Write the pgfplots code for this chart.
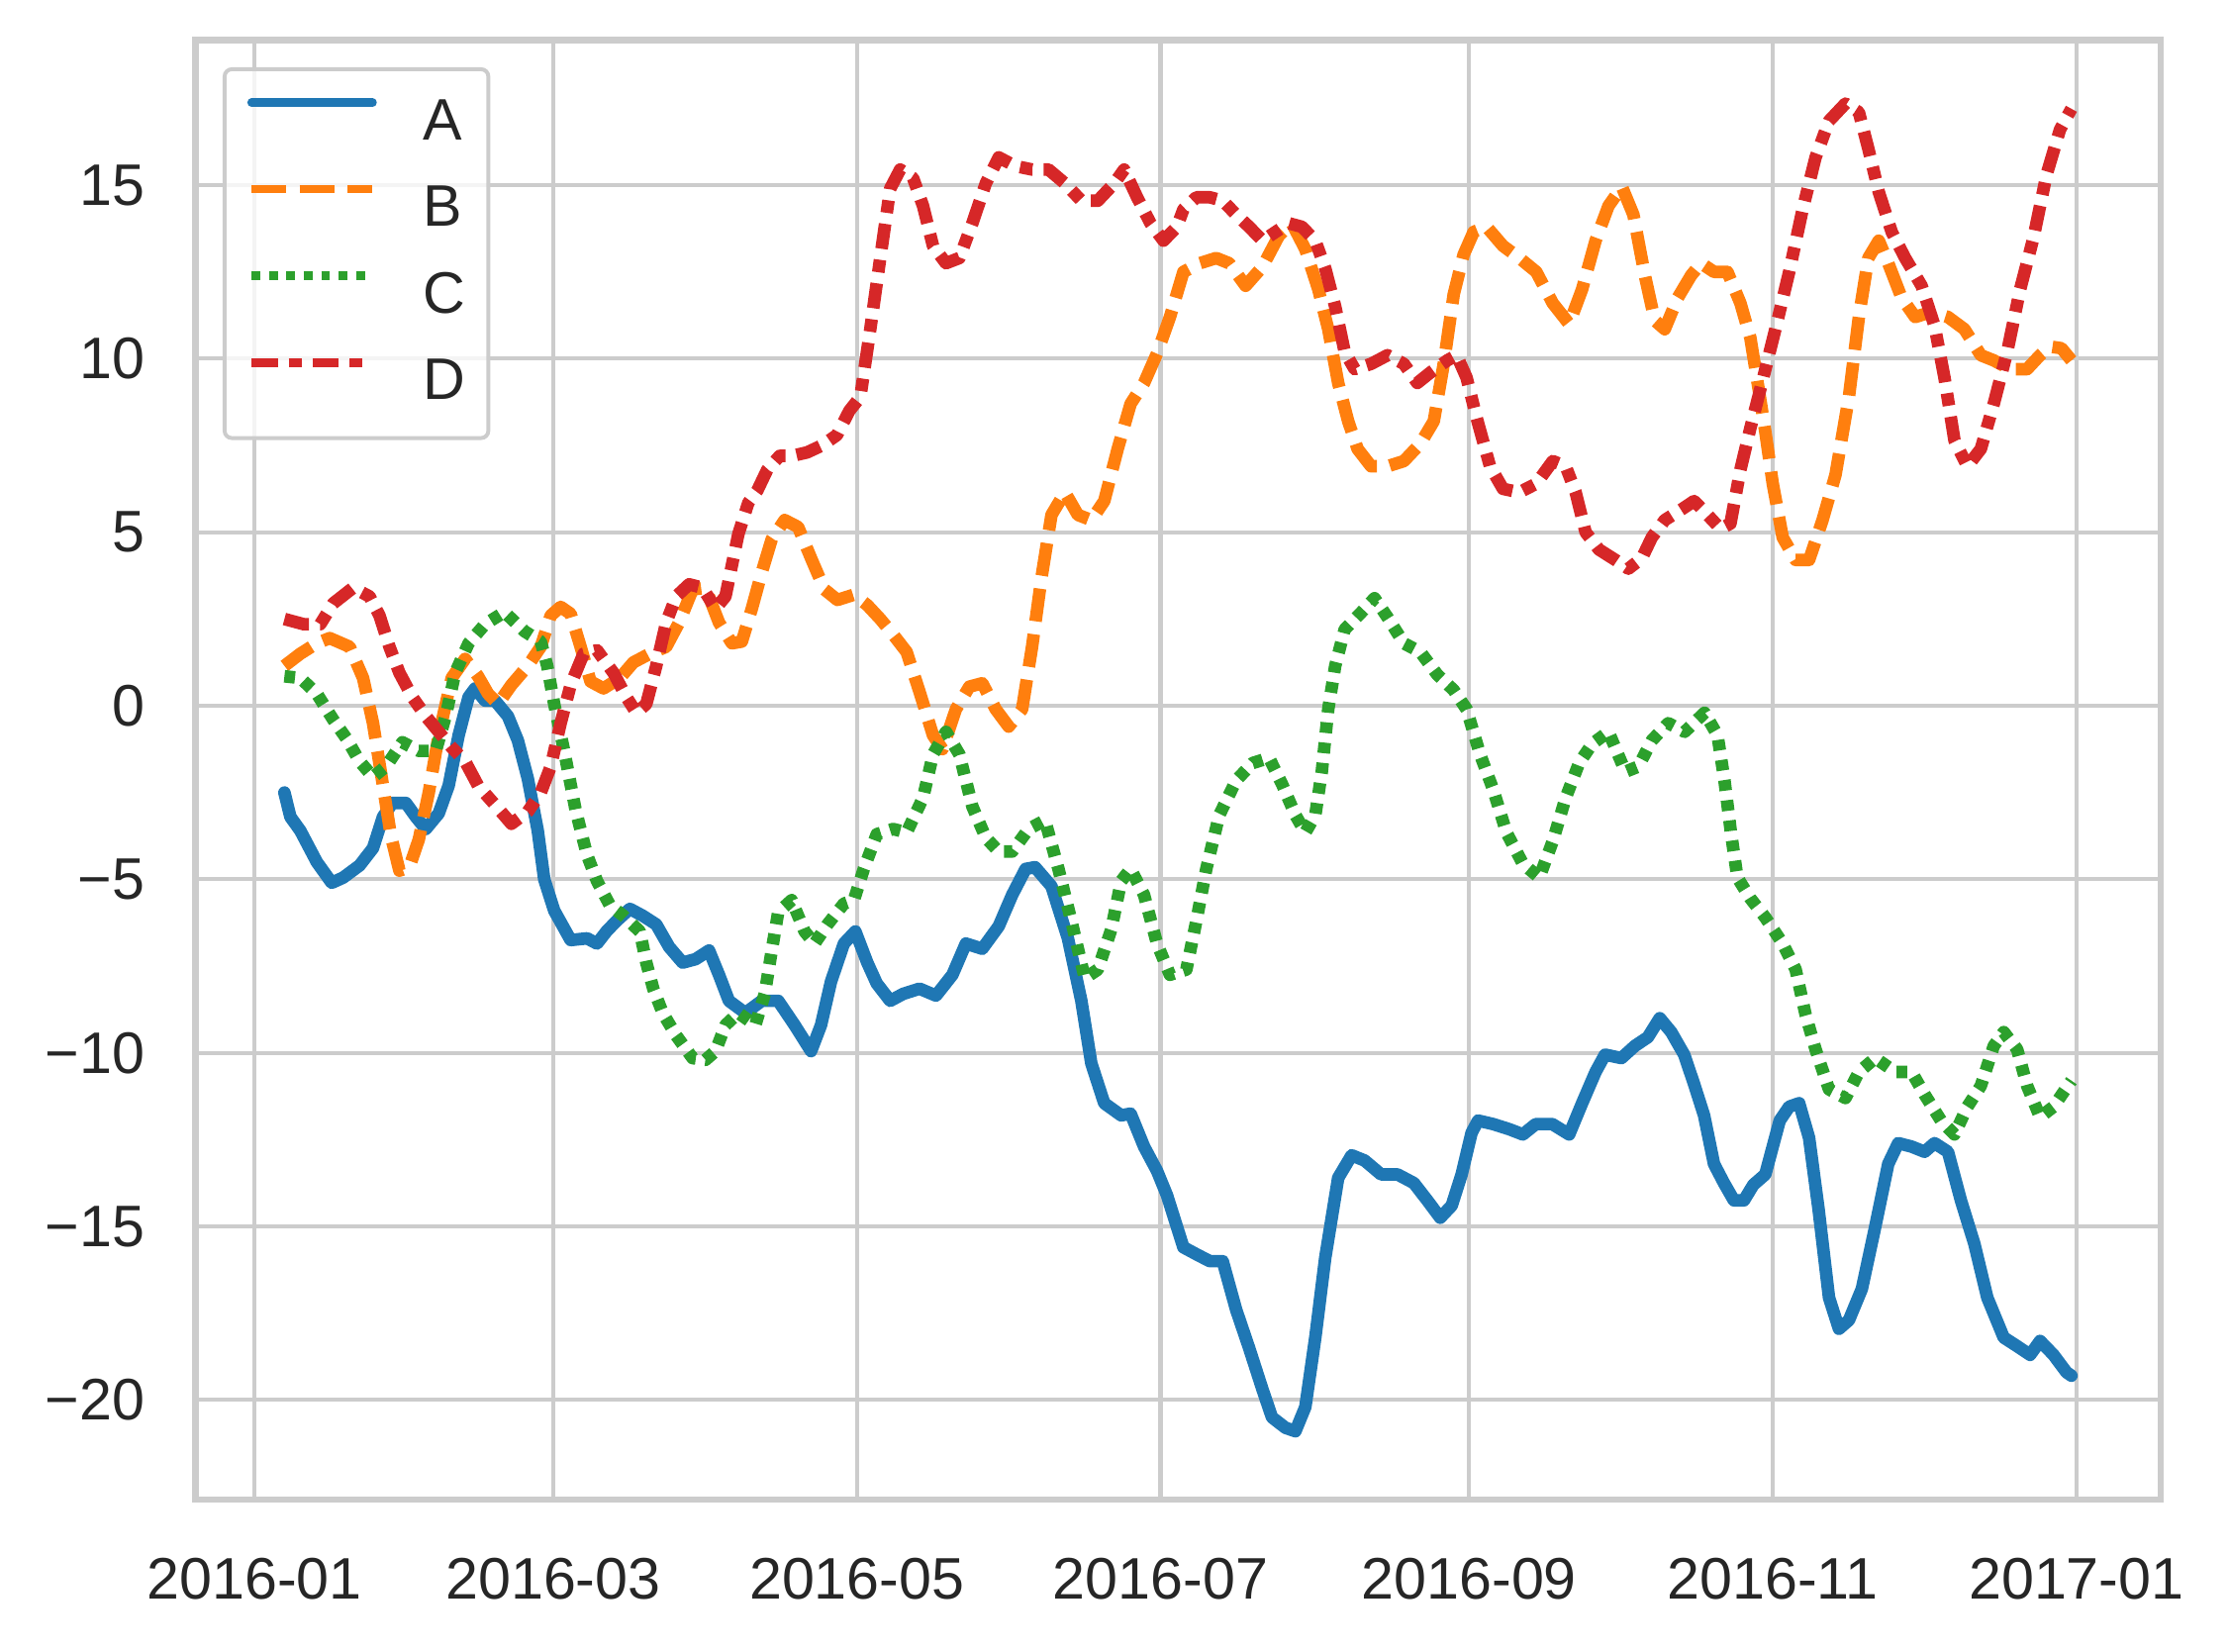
\documentclass[border=0pt]{standalone}
\usepackage{fontspec}
\setmainfont{Liberation Sans}
\usepackage{pgfplots}
\pgfplotsset{compat=1.18}
\definecolor{cA}{HTML}{1F77B4}
\definecolor{cB}{HTML}{FF7F0E}
\definecolor{cC}{HTML}{2CA02C}
\definecolor{cD}{HTML}{D62728}
\definecolor{gridc}{HTML}{CCCCCC}
\definecolor{txt}{HTML}{262626}
\begin{document}
\begin{tikzpicture}
\begin{axis}[
  scale only axis, width=406.1pt, height=301.6pt,
  xmin=-11.95, xmax=382.95, ymin=-22.87, ymax=19.19,
  xtick={0,60,121,182,244,305,366},
  xticklabels={2016-01,2016-03,2016-05,2016-07,2016-09,2016-11,2017-01},
  ytick={-20,-15,-10,-5,0,5,10,15},
  yticklabels={−20,−15,−10,−5,0,5,10,15},
  major tick length=0pt,
  grid=major,
  major grid style={gridc, line width=0.85pt},
  axis line style={gridc, line width=1.4pt},
  tick label style={font=\fontsize{12.1}{14}\selectfont, text=txt},
  yticklabel style={xshift=-6.9pt},
  xticklabel style={yshift=-8.5pt},
  legend cell align=left,
  legend style={at={(0,1)}, anchor=north west, xshift=5.7pt, yshift=-5.7pt,
    draw=gridc, line width=0.8pt, rounded corners=1.5pt, fill=white, fill opacity=0.8,
    draw opacity=1, text opacity=1, inner xsep=4.7pt, inner ysep=5.9pt,
    row sep=7.2pt, column sep=9.6pt,
    nodes={inner sep=0pt, text height=8.7pt, text depth=2pt, font=\fontsize{12.1}{14}\selectfont, text=txt}},
  legend image code/.code={\draw[#1] (0pt,4.35pt) -- (25pt,4.35pt);},
]
\addlegendimage{cA, line width=1.75pt, line cap=round}
\addlegendentry{A}
\addlegendimage{cB, line width=1.75pt, dash pattern=on 7.2pt off 2.7pt}
\addlegendentry{B}
\addlegendimage{cC, line width=1.75pt, dash pattern=on 1.8pt off 1.8pt}
\addlegendentry{C}
\addlegendimage{cD, line width=1.75pt, dash pattern=on 5.4pt off 2.25pt on 2.7pt off 2.25pt}
\addlegendentry{D}
\addplot[forget plot, cA, line width=2.6pt, line cap=round, line join=round] coordinates {
(6,-2.5) (7.2,-3.2) (9.2,-3.6) (12.5,-4.5) (15.5,-5.1) (17.8,-4.95) (21.1,-4.6) (23.8,-4.1) (25.8,-3.2) (27.7,-2.8) (30.4,-2.8) (32.4,-3.2) (34.4,-3.55) (37,-3.1) (39,-2.3) (41,-0.85) (43,0.25) (44.3,0.5) (46.3,0.15) (48.3,0.15) (50.9,-0.3) (52.9,-1.0) (54.9,-2.1) (56.9,-3.6) (58.2,-5.0) (60.2,-5.9) (63.5,-6.75) (66.8,-6.7) (68.8,-6.85) (70.7,-6.5) (72.7,-6.2) (75.4,-5.85) (78,-6.05) (80.7,-6.3) (83.3,-6.95) (86,-7.4) (88.6,-7.3) (91.3,-7.05) (93.3,-7.75) (95.3,-8.5) (98.6,-8.85) (101.9,-8.5) (105.2,-8.5) (108.5,-9.2) (111.8,-9.95) (113.8,-9.2) (115.8,-7.95) (118.4,-6.85) (120.7,-6.5) (123.1,-7.4) (125,-8.0) (127.7,-8.5) (130.3,-8.3) (133.6,-8.15) (136.9,-8.35) (140.2,-7.75) (142.9,-6.85) (146.2,-7.0) (149.5,-6.35) (152.2,-5.45) (154.9,-4.7) (156.8,-4.65) (160.1,-5.2) (163.4,-6.7) (166.1,-8.5) (168.1,-10.3) (170.7,-11.45) (174.1,-11.8) (176,-11.75) (178.7,-12.7) (181.3,-13.4) (183.3,-14.1) (186.6,-15.6) (189.2,-15.8) (191.9,-16.0) (194.5,-16.0) (197.2,-17.4) (199.8,-18.5) (202.5,-19.7) (204.4,-20.5) (207.1,-20.8) (209.1,-20.9) (211.1,-20.2) (213.1,-18.2) (215.1,-15.9) (217.7,-13.6) (220.4,-12.95) (223,-13.1) (226.3,-13.5) (229.6,-13.5) (232.9,-13.75) (235.6,-14.25) (238.2,-14.75) (240.5,-14.4) (242.5,-13.5) (244.5,-12.3) (245.8,-11.95) (248.8,-12.05) (252.1,-12.2) (254.8,-12.35) (257.4,-12.05) (260.7,-12.05) (264.1,-12.35) (266.7,-11.45) (269.4,-10.55) (271.3,-10.05) (274.6,-10.15) (277.3,-9.8) (279.9,-9.55) (282.3,-9.0) (284.6,-9.4) (287.2,-10.05) (289.2,-10.9) (291.2,-11.8) (293.2,-13.2) (295.2,-13.75) (297.2,-14.25) (299.2,-14.25) (301.1,-13.8) (303.5,-13.5) (306.4,-11.95) (308.3,-11.55) (310.3,-11.45) (312.3,-12.45) (314.2,-14.5) (316.3,-17.05) (318.3,-17.95) (320.3,-17.7) (322.9,-16.8) (325.6,-15.0) (328.2,-13.2) (330.2,-12.6) (332.9,-12.7) (335.5,-12.85) (337.5,-12.6) (340.2,-12.85) (342.8,-14.25) (345.5,-15.5) (348.1,-17.05) (351.4,-18.2) (354.1,-18.45) (356.7,-18.7) (358.7,-18.3) (361.4,-18.7) (364,-19.2) (365,-19.3)
};
\addplot[forget plot, cB, line width=2.6pt, dash pattern=on 6.8pt off 2.7pt, line join=round] coordinates {
(6,1.15) (9.2,1.5) (12.5,1.8) (15.1,1.95) (19.1,1.7) (21.8,0.8) (23.8,-0.5) (25.8,-2.3) (27.4,-3.75) (29.1,-4.75) (31.1,-4.65) (33,-3.85) (35,-2.5) (37,-0.85) (39.6,0.8) (42.3,1.35) (44.9,0.85) (46.9,0.35) (48.9,0.05) (51.6,0.6) (54.9,1.15) (57.5,1.7) (59.5,2.6) (61.5,2.85) (63.5,2.65) (65.5,1.7) (67.5,0.7) (70.1,0.5) (73.4,0.8) (76.1,1.25) (79.4,1.5) (82.7,1.7) (85.3,2.4) (88,3.35) (90.6,3.4) (93.3,2.4) (95.9,1.8) (97.9,1.85) (99.9,2.8) (101.9,3.85) (103.9,4.8) (106.5,5.35) (109.2,5.15) (111.8,4.25) (114.5,3.35) (117.1,3.05) (120.4,3.2) (123.1,2.9) (125.7,2.5) (128.3,2.05) (131,1.55) (133.6,0.4) (136.3,-0.85) (138.2,-1.25) (140.9,-0.1) (143.6,0.55) (146.2,0.65) (148.9,-0.1) (151.5,-0.6) (154.2,-0.1) (156.2,1.7) (158.1,3.7) (160.1,5.5) (162.8,6.15) (165.4,5.5) (168.1,5.35) (170.7,5.9) (173.4,7.4) (176,8.7) (178.7,9.3) (181.3,10.15) (183.9,11.2) (186.6,12.5) (189.9,12.75) (193.2,12.9) (195.8,12.75) (199.1,12.1) (202.5,12.65) (205.8,13.55) (208.4,13.9) (211.1,13.15) (213.7,12.0) (215.7,10.85) (217.7,9.3) (219.7,8.2) (221.6,7.4) (224.3,6.9) (227.6,6.9) (230.9,7.05) (234.2,7.55) (236.9,8.2) (238.9,9.85) (240.9,11.85) (242.9,13.0) (244.9,13.65) (247.5,13.8) (250.8,13.25) (254.1,12.9) (257.5,12.5) (260.8,11.6) (264.1,11.0) (266.7,12.0) (269.4,13.4) (272,14.4) (274.7,14.95) (277,14.15) (279.3,12.4) (281.3,11.1) (283.3,10.85) (285.9,11.75) (288.6,12.4) (290.6,12.75) (293.2,12.5) (295.9,12.5) (298.5,11.6) (300.5,10.6) (302.3,9.0) (303.5,7.9) (305,6.4) (307,4.85) (309.6,4.2) (312.3,4.2) (315,5.35) (317.6,6.65) (320.3,8.9) (322.3,11.2) (324.2,12.9) (326.3,13.4) (328.2,12.75) (330.9,11.75) (333.6,11.2) (336.9,11.35) (340.2,11.2) (343.5,10.85) (346.8,10.1) (349.4,9.95) (352.7,9.7) (356.1,9.7) (358.7,10.1) (360.7,10.35) (363,10.3) (365,9.95)
};
\addplot[forget plot, cC, line width=2.6pt, dash pattern=on 2.2pt off 2.0pt, line join=round] coordinates {
(6,0.85) (9.2,0.8) (12.5,0.35) (15.8,-0.4) (18.5,-0.95) (21.1,-1.6) (23.8,-2.05) (26.4,-1.75) (29.7,-1.05) (33,-1.3) (36.4,-1.3) (38.4,-0.3) (40.3,0.95) (43,1.8) (46.3,2.35) (50.2,2.7) (54.2,2.15) (57.5,1.85) (58.8,1.15) (60.2,0.05) (62.2,-1.3) (64.5,-3.0) (66.8,-4.3) (68.8,-5.05) (71.4,-5.75) (74.1,-6.05) (77.4,-6.5) (78.7,-7.4) (80.1,-8.15) (82,-8.85) (84.7,-9.5) (88,-10.15) (90.6,-10.2) (92.6,-9.95) (94.6,-9.2) (97.2,-8.85) (100.6,-9.2) (102.5,-8.3) (103.9,-7.05) (105.2,-5.95) (107.9,-5.6) (110.5,-6.5) (112.5,-6.85) (115.1,-6.3) (118.4,-5.7) (120.4,-5.6) (122.4,-4.7) (125,-3.7) (128.3,-3.55) (131,-3.65) (134.3,-2.65) (136.3,-1.4) (138.9,-0.75) (141.6,-1.4) (144.2,-2.9) (146.9,-3.8) (149.5,-4.2) (152.2,-4.2) (155.5,-3.55) (158.8,-3.3) (161.5,-4.7) (164.1,-6.2) (166.8,-7.85) (169.4,-7.6) (172.1,-6.45) (174.1,-5.05) (176,-4.7) (178.7,-5.45) (181.3,-6.85) (183.9,-7.75) (187.2,-7.6) (189.2,-6.2) (191.2,-4.7) (193.8,-3.15) (197.2,-2.15) (200.5,-1.65) (203.8,-1.5) (206.4,-2.25) (209.1,-3.15) (211.1,-3.65) (213.1,-3.15) (214.4,-1.9) (215.7,-0.1) (217.1,1.15) (219,2.2) (222.4,2.7) (225,3.1) (227.6,2.55) (230.9,1.8) (234.2,1.55) (237.6,0.9) (240.9,0.45) (243.5,-0.1) (246.2,-1.4) (248.8,-2.4) (251.5,-3.65) (254.8,-4.55) (258.1,-4.95) (260.8,-3.9) (263.4,-2.65) (266.1,-1.65) (268.7,-1.1) (272,-0.75) (275.4,-1.9) (278,-1.75) (280.7,-1.0) (284,-0.5) (287.3,-0.75) (291.3,-0.2) (293.9,-0.85) (295.3,-2.15) (296.6,-3.65) (297.9,-4.95) (300.5,-5.55) (303.5,-6.1) (307,-6.85) (309.6,-7.6) (311.6,-8.9) (313.6,-9.9) (316.3,-11.05) (319.6,-11.3) (322.3,-10.55) (325.6,-10.15) (329.6,-10.55) (332.9,-10.55) (335.5,-11.2) (338.8,-11.95) (341.5,-12.35) (344.1,-11.55) (346.8,-10.95) (349.4,-9.8) (351.4,-9.4) (354.1,-9.9) (356.1,-10.95) (358.7,-11.85) (361.4,-11.55) (365,-10.8)
};
\addplot[forget plot, cD, line width=2.6pt, dash pattern=on 5.2pt off 2.3pt on 2.6pt off 2.3pt, line join=round] coordinates {
(6,2.5) (9.9,2.35) (13.2,2.35) (15.8,2.95) (19.8,3.4) (23.1,3.15) (25.1,2.6) (27.1,1.7) (29.1,0.95) (31.7,0.25) (34.4,-0.3) (37,-0.75) (39.6,-1.2) (42.3,-1.6) (44.9,-2.3) (48.3,-2.85) (51.6,-3.4) (54.9,-3.05) (57.5,-2.5) (59.5,-1.75) (61.5,-0.5) (63.5,0.6) (66.1,1.5) (68.8,1.6) (72.1,0.95) (74.7,0.25) (76.7,-0.2) (78.7,0.05) (80.7,1.15) (82.7,2.4) (84.7,3.15) (87.3,3.5) (90,3.4) (92.6,2.8) (94.6,3.15) (95.9,4.05) (97.2,4.95) (99.2,5.85) (101,6.2) (103,6.8) (105.5,7.2) (108,7.2) (111,7.3) (114,7.5) (117,7.8) (119.5,8.5) (121.7,8.9) (123.7,10.85) (125.7,12.9) (127.7,14.9) (129.7,15.45) (132.3,15.2) (134.3,14.4) (136.3,13.25) (138.9,12.75) (141.6,12.9) (144.2,13.9) (146.9,15.05) (149.5,15.8) (152.8,15.55) (156.2,15.45) (159.5,15.45) (162.8,15.05) (166.1,14.55) (169.4,14.55) (172.7,15.05) (174.7,15.45) (177.3,14.65) (180,13.9) (182.6,13.4) (185.3,13.8) (186.6,14.3) (189.2,14.65) (191.9,14.65) (194.5,14.55) (197.2,14.15) (199.8,13.8) (202.5,13.4) (205.1,13.65) (207.8,13.9) (210.4,13.8) (213.1,13.4) (215.1,12.6) (217.1,11.5) (219,10.2) (221,9.7) (224.3,9.85) (227.6,10.1) (230.9,9.85) (233.6,9.3) (236.2,9.6) (239.6,9.95) (241.5,10.1) (243.5,9.45) (245.5,8.3) (248.2,6.9) (250.8,6.25) (254.1,6.15) (257.5,6.4) (260.8,7.05) (263.4,6.9) (265.4,6.15) (267.4,5.0) (270.1,4.5) (273.4,4.2) (276,3.95) (278.7,4.25) (280.7,4.85) (283.3,5.35) (286.6,5.65) (289.2,5.9) (291.9,5.5) (294.5,5.1) (296.5,5.25) (298.5,6.8) (300.5,8.0) (303,9.4) (305.7,10.95) (308.3,12.5) (311,14.3) (313.6,15.8) (316.3,16.85) (319.6,17.35) (322.3,17.1) (324.2,16.05) (326.3,14.8) (328.9,13.65) (331.6,12.9) (334.9,12.1) (337.5,10.95) (339.5,9.45) (341.5,7.65) (344.1,6.9) (346.8,7.4) (349.4,8.7) (352.1,10.2) (354.7,12.0) (357.4,13.5) (360,15.3) (362.7,16.6) (365,17.2)
};
\end{axis}
\pgfresetboundingbox
\path[use as bounding box] ([xshift=-40.3pt,yshift=-31.3pt]current axis.south west) rectangle ([xshift=14.1pt,yshift=8.2pt]current axis.north east);
\end{tikzpicture}
\end{document}
